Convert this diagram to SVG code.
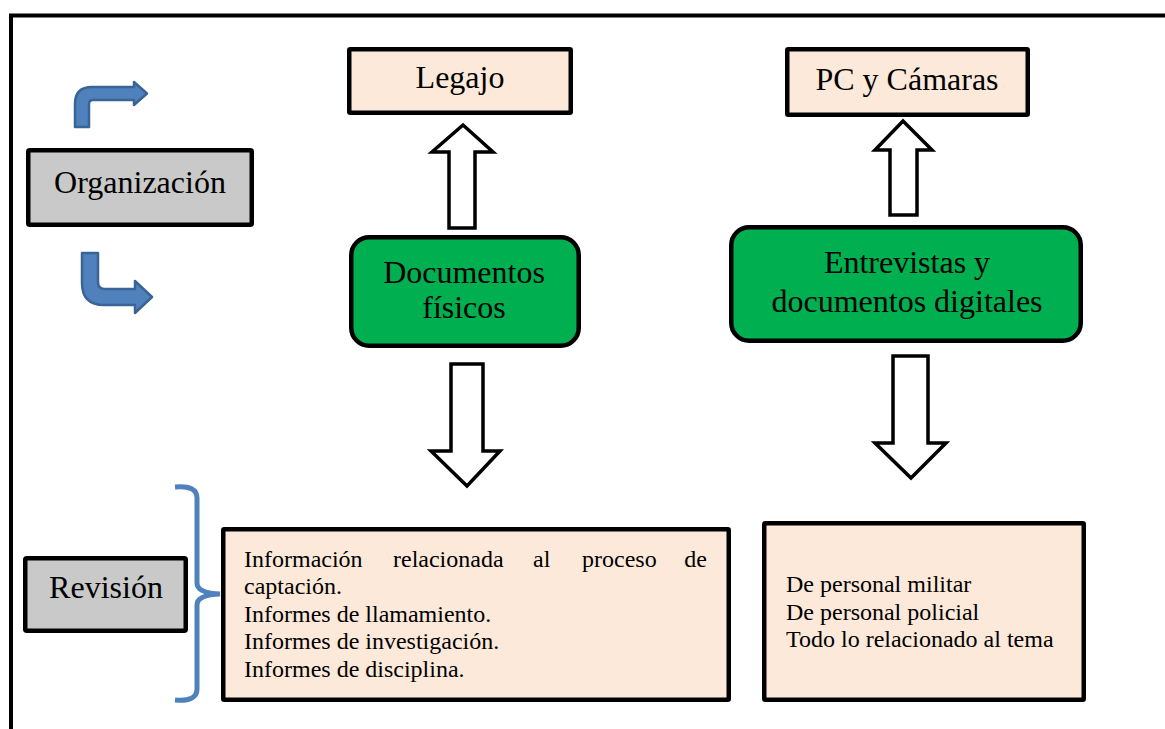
<svg xmlns="http://www.w3.org/2000/svg" width="1165" height="729" viewBox="0 0 1165 729">
<style>
text{font-family:"Liberation Serif","Times New Roman",serif;fill:#000}
.big{font-size:32px;text-anchor:middle}
.small{font-size:24px}
.gray{fill:#c9c9c9;stroke:#000;stroke-width:4.5}
.pink{fill:#fde9d9;stroke:#000;stroke-width:4.5}
.green{fill:#00b050;stroke:#000;stroke-width:4.5}
.block{fill:#fff;stroke:#000;stroke-width:3.5;stroke-linejoin:miter}
.bent{fill:#4f81bd;stroke:#3a6396;stroke-width:2.5;stroke-linejoin:round}
</style>
<rect width="1165" height="729" fill="#fff"/>
<g id="frame">
<path d="M11,729 L11,15.5 L1165,15.5" fill="none" stroke="#000" stroke-width="4"/>
</g>
<g id="organizacion">
<rect class="gray" x="28.25" y="150.25" width="223.5" height="74.5" rx="1.5"/>
<text class="big" x="140" y="193">Organización</text>
</g>
<g id="revision">
<rect class="gray" x="25.25" y="558.25" width="160.5" height="72.5" rx="1.5"/>
<text class="big" x="106" y="598">Revisión</text>
</g>
<g id="legajo">
<rect class="pink" x="349.25" y="49.25" width="221.5" height="63.5" rx="1"/>
<text class="big" x="460" y="88">Legajo</text>
</g>
<g id="pc-camaras">
<rect class="pink" x="787.25" y="49.25" width="240.5" height="65.5" rx="1"/>
<text class="big" x="907" y="90">PC y Cámaras</text>
</g>
<g id="documentos-fisicos">
<rect class="green" x="351.25" y="237.25" width="227.5" height="108.5" rx="18"/>
<text class="big" x="464" y="283">Documentos</text>
<text class="big" x="464" y="318">físicos</text>
</g>
<g id="entrevistas">
<rect class="green" x="731.25" y="227.25" width="349.5" height="113.5" rx="18"/>
<text class="big" x="907" y="273">Entrevistas y</text>
<text class="big" x="907" y="312">documentos digitales</text>
</g>
<g id="info-fisica">
<rect class="pink" x="223.25" y="529.25" width="505.5" height="170.5" rx="1"/>
<text class="small" x="244" y="567">Información</text>
<text class="small" x="393" y="567">relacionada</text>
<text class="small" x="533" y="567">al</text>
<text class="small" x="582" y="567">proceso</text>
<text class="small" x="707" y="567" text-anchor="end">de</text>
<text class="small" x="244" y="594">captación.</text>
<text class="small" x="244" y="622">Informes de llamamiento.</text>
<text class="small" x="244" y="649">Informes de investigación.</text>
<text class="small" x="244" y="677">Informes de disciplina.</text>
</g>
<g id="info-digital">
<rect class="pink" x="764.25" y="523.25" width="319.5" height="176.5" rx="1"/>
<text class="small" x="786" y="592">De personal militar</text>
<text class="small" x="786" y="620">De personal policial</text>
<text class="small" x="786" y="647">Todo lo relacionado al tema</text>
</g>
<g id="connectors">
<path class="bent" d="M75,127 L75,104 Q75,87 92,87 L134,87 L134,82 L147,93.5 L134,105 L134,100 L93,100 Q89,100 89,104 L89,127 Z"/>
<path class="bent" d="M82,253 L98,253 L98,282 Q98,289 105,289 L135,289 L135,281 L152,297 L135,313 L135,305 L104,305 Q82,305 82,283 Z"/>
<path d="M175,487 Q197,485 197,498 L197,583 Q197,593 220,594 Q197,595 197,605 L197,689 Q197,702 175,700" fill="none" stroke="#4f81bd" stroke-width="5"/>
<polygon class="block" points="463,125 493,152 475,152 475,228 449,228 449,152 432,152"/>
<polygon class="block" points="451,364 483,364 483,451 500,451 467,486 431,451 451,451"/>
<polygon class="block" points="903,121 932,150 917,150 917,215 890,215 890,150 875,150"/>
<polygon class="block" points="893,356 928,356 928,443 946,443 911,478 875,443 893,443"/>
</g>
</svg>
